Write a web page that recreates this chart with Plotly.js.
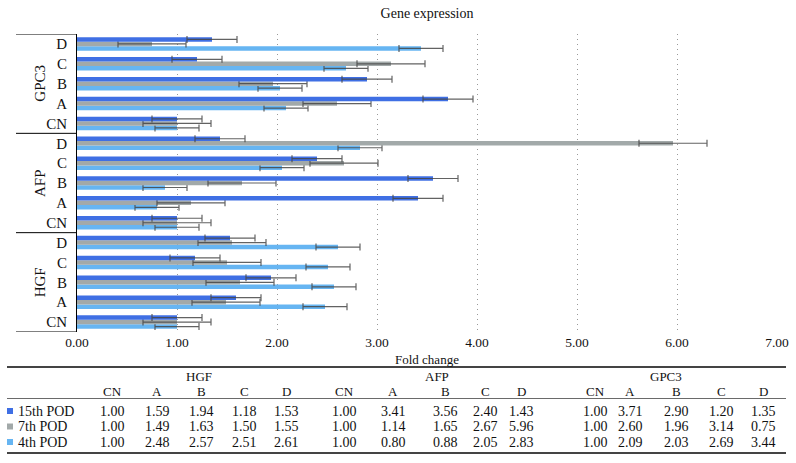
<!DOCTYPE html>
<html>
<head>
<meta charset="utf-8">
<script src="https://cdn.plot.ly/plotly-3.0.1.min.js"></script>
<style>html,body{margin:0;padding:0;background:#fff;}#chart{width:796px;height:463px;}</style>
</head>
<body>
<div id="chart"></div>
<script>
// ---- data ----
var genes = ['HGF', 'AFP', 'GPC3'];
var categories = ['CN', 'A', 'B', 'C', 'D'];
var seriesNames = ['15th POD', '7th POD', '4th POD'];
// values per gene: HGF (CN..D), AFP (CN..D), GPC3 (CN..D)
var pod15 = [1.00, 1.59, 1.94, 1.18, 1.53, 1.00, 3.41, 3.56, 2.40, 1.43, 1.00, 3.71, 2.90, 1.20, 1.35];
var pod7  = [1.00, 1.49, 1.63, 1.50, 1.55, 1.00, 1.14, 1.65, 2.67, 5.96, 1.00, 2.60, 1.96, 3.14, 0.75];
var pod4  = [1.00, 2.48, 2.57, 2.51, 2.61, 1.00, 0.80, 0.88, 2.05, 2.83, 1.00, 2.09, 2.03, 2.69, 3.44];
var err15 = [0.25, 0.25, 0.25, 0.25, 0.25, 0.25, 0.25, 0.25, 0.25, 0.25, 0.25, 0.25, 0.25, 0.25, 0.25];
var err7  = [0.34, 0.34, 0.34, 0.34, 0.34, 0.34, 0.34, 0.34, 0.34, 0.34, 0.34, 0.34, 0.34, 0.34, 0.34];
var err4  = [0.22, 0.22, 0.22, 0.22, 0.22, 0.22, 0.22, 0.22, 0.22, 0.22, 0.22, 0.22, 0.22, 0.22, 0.22];
var xTicks = [0, 1, 2, 3, 4, 5, 6, 7];

// ---- styling ----
var colors = ['#3F6FE4', '#A2A9A9', '#66B5F2'];
var FONT = "'Liberation Serif', 'Times New Roman', serif";
var plotL = 77, plotR = 777, plotT = 34, plotB = 332;
function px(X) { return (X - plotL) / (plotR - plotL); }
function py(Y) { return (plotB - Y) / (plotB - plotT); }

var yKeys = [], yLabels = [];
genes.forEach(function (g) {
  categories.forEach(function (c) { yKeys.push(g + ' ' + c); yLabels.push(c); });
});

function barTrace(name, vals, errs, color) {
  return {
    type: 'bar', orientation: 'h', name: name,
    x: vals, y: yKeys,
    marker: { color: color, line: { width: 0 } },
    error_x: { type: 'data', array: errs, visible: true, color: 'rgba(70,70,70,0.85)', thickness: 1.2, width: 3.5 },
    hoverinfo: 'skip', showlegend: false
  };
}
// Horizontal grouping puts the first trace at the bottom of each group
var data = [
  barTrace(seriesNames[2], pod4, err4, colors[2]),
  barTrace(seriesNames[1], pod7, err7, colors[1]),
  barTrace(seriesNames[0], pod15, err15, colors[0])
];

var annotations = [];
var shapes = [];

// gene group labels and brackets
genes.forEach(function (g, gi) {
  annotations.push({
    xref: 'paper', yref: 'y', x: px(40), y: gi * 5 + 2, text: g, showarrow: false,
    textangle: -90, xanchor: 'center', yanchor: 'middle',
    font: { family: FONT, size: 15, color: '#111' }
  });
});
for (var k = 0; k <= genes.length; k++) {
  shapes.push({ type: 'line', xref: 'paper', yref: 'y', x0: px(16), x1: 0, y0: k * 5 - 0.5, y1: k * 5 - 0.5,
    line: { color: '#000', width: 1 } });
}

// axis title
annotations.push({ xref: 'paper', yref: 'paper', x: 0.5, y: py(359), text: 'Fold change', showarrow: false,
  xanchor: 'center', yanchor: 'middle', font: { family: FONT, size: 13, color: '#111' } });

// ---- table ----
var tblL = 7, tblR = 786;
shapes.push({ type: 'line', xref: 'paper', yref: 'paper', x0: px(tblL), x1: px(tblR), y0: py(367), y1: py(367), line: { color: '#444', width: 1.8 } });
shapes.push({ type: 'line', xref: 'paper', yref: 'paper', x0: px(tblL), x1: px(tblR), y0: py(398.5), y1: py(398.5), line: { color: '#444', width: 0.8 } });
shapes.push({ type: 'line', xref: 'paper', yref: 'paper', x0: px(tblL), x1: px(tblR), y0: py(453), y1: py(453), line: { color: '#444', width: 1.8 } });

var geneX = [199, 437, 666];
var colX = [112, 157, 201, 244, 286, 344, 393, 445, 485, 521, 595, 630, 676, 721, 763];
var rowY = [411, 426.5, 442];
var tfont = { family: FONT, size: 14, color: '#111' };

genes.forEach(function (g, gi) {
  annotations.push({ xref: 'paper', yref: 'paper', x: px(geneX[gi]), y: py(376.5), text: g, showarrow: false,
    xanchor: 'center', yanchor: 'middle', font: { family: FONT, size: 13, color: '#111' } });
});
yKeys.forEach(function (key, i) {
  annotations.push({ xref: 'paper', yref: 'paper', x: px(colX[i]), y: py(391.5), text: yLabels[i], showarrow: false,
    xanchor: 'center', yanchor: 'middle', font: { family: FONT, size: 13, color: '#111' } });
});
var seriesVals = [pod15, pod7, pod4];
seriesNames.forEach(function (s, si) {
  shapes.push({ type: 'rect', xref: 'paper', yref: 'paper', x0: px(7), x1: px(13), y0: py(rowY[si] + 3), y1: py(rowY[si] - 3),
    fillcolor: colors[si], line: { width: 0 } });
  annotations.push({ xref: 'paper', yref: 'paper', x: px(16), y: py(rowY[si]), text: s, showarrow: false,
    xanchor: 'left', yanchor: 'middle', font: tfont });
  seriesVals[si].forEach(function (v, i) {
    annotations.push({ xref: 'paper', yref: 'paper', x: px(colX[i]), y: py(rowY[si]), text: v.toFixed(2), showarrow: false,
      xanchor: 'center', yanchor: 'middle', font: tfont });
  });
});

var layout = {
  width: 796, height: 463,
  margin: { l: plotL, r: 796 - plotR, t: plotT, b: 463 - plotB, pad: 0 },
  paper_bgcolor: '#fff', plot_bgcolor: '#fff',
  title: { text: 'Gene expression', x: 0.5365, xanchor: 'center', y: 1 - 13 / 463, yanchor: 'middle', yref: 'container',
    font: { family: FONT, size: 14, color: '#111' } },
  barmode: 'group', bargap: 0.32, bargroupgap: 0,
  font: { family: FONT, color: '#111' },
  xaxis: {
    range: [0, 7], tickvals: xTicks, tickformat: '.2f', ticks: '',
    showgrid: true, gridcolor: '#999', griddash: '1px,4px', gridwidth: 1,
    zeroline: false, showline: false,
    tickfont: { family: FONT, size: 13.5, color: '#111' }
  },
  yaxis: {
    type: 'category', categoryorder: 'array', categoryarray: yKeys,
    tickvals: yKeys, ticktext: yLabels, range: [-0.5, 14.5],
    showgrid: false, zeroline: false, showline: true, linecolor: '#000', linewidth: 1,
    ticks: 'outside', ticklen: 6, tickcolor: 'rgba(0,0,0,0)',
    tickfont: { family: FONT, size: 15, color: '#111' }
  },
  annotations: annotations,
  shapes: shapes
};

Plotly.newPlot('chart', data, layout, { staticPlot: true, displayModeBar: false });
</script>
</body>
</html>
